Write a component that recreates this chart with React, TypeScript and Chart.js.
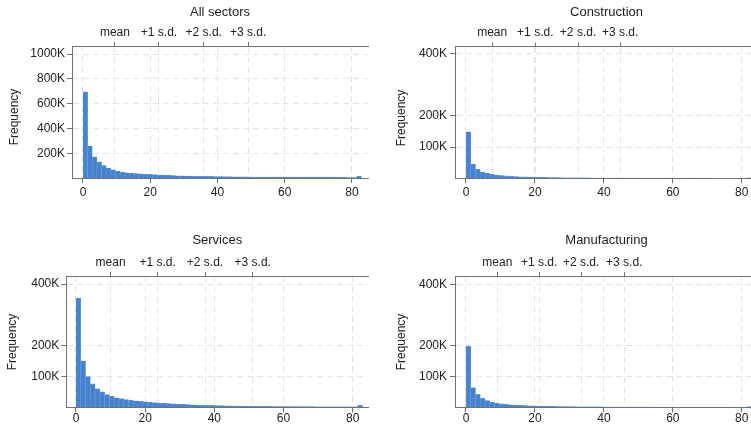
import React, { useEffect, useRef } from "react";
import { Chart, registerables } from "chart.js";

Chart.register(...registerables);
Chart.defaults.font.family = '"Liberation Sans", Arial, Helvetica, sans-serif';
Chart.defaults.font.size = 12;
Chart.defaults.color = "#222";

// ---------- data ----------
const binWidth = 1.38;
const binCount = 60;
const binCenters = Array.from({ length: binCount }, (_, i) => (i + 0.5) * binWidth);

// frequencies in thousands
const allSectorsK = [
  696, 258, 170, 130, 101, 80, 66, 56, 48, 42,
  39, 36, 33, 31, 29, 27, 25, 23, 21.5, 20,
  18.5, 17.5, 16.5, 15.5, 14.7, 14, 13.3, 12.7, 12, 11.5,
  11, 10.5, 10, 9.5, 9, 8.7, 8.4, 8.1, 7.8, 7.5,
  7.2, 7, 6.8, 6.6, 6.4, 6.2, 6, 5.8, 5.6, 5.4,
  5.2, 5, 4.9, 4.8, 4.7, 4.6, 4.5, 4.4, 4.3, 14,
];
const constructionK = [
  149, 45, 29, 20, 16, 13, 10.5, 9, 7.6, 6.6,
  5.8, 5.1, 4.5, 4, 3.6, 3.2, 2.9, 2.6, 2.3, 2.1,
  1.9, 1.7, 1.55, 1.4, 1.3, 1.2, 1.1, 1, 0.95, 0.9,
  0.85, 0.8, 0.75, 0.7, 0.66, 0.62, 0.58, 0.55, 0.52, 0.5,
  0.48, 0.46, 0.44, 0.42, 0.4, 0.38, 0.36, 0.35, 0.34, 0.33,
  0.32, 0.31, 0.3, 0.29, 0.28, 0.27, 0.26, 0.25, 0.24, 1.5,
];
const servicesK = [
  354, 151, 100, 76, 60, 50, 41, 36, 31, 28,
  25, 23, 21, 19.5, 18, 16.5, 15, 14, 13, 12,
  11, 10.2, 9.5, 8.8, 8.2, 7.6, 7, 6.5, 6, 5.6,
  5.2, 4.9, 4.6, 4.3, 4, 3.8, 3.6, 3.4, 3.2, 3,
  2.8, 2.7, 2.6, 2.5, 2.4, 2.3, 2.2, 2.1, 2, 1.95,
  1.9, 1.85, 1.8, 1.75, 1.7, 1.65, 1.6, 1.55, 1.5, 6,
];
const manufacturingK = [
  198, 64, 42, 29, 22, 16.5, 13, 11, 9.5, 8.2,
  7.2, 6.4, 5.7, 5.1, 4.6, 4.1, 3.7, 3.3, 3, 2.7,
  2.4, 2.2, 2, 1.8, 1.65, 1.5, 1.4, 1.3, 1.2, 1.1,
  1, 0.95, 0.9, 0.85, 0.8, 0.75, 0.7, 0.66, 0.62, 0.58,
  0.55, 0.52, 0.5, 0.48, 0.46, 0.44, 0.42, 0.4, 0.38, 0.36,
  0.35, 0.34, 0.33, 0.32, 0.31, 0.3, 0.29, 0.28, 0.27, 2,
];

// top-axis marks: mean, +1 s.d., +2 s.d., +3 s.d.
const sdLabels = ["mean", "+1 s.d.", "+2 s.d.", "+3 s.d."];
const allSectorsMarks = [9.5, 22.6, 35.9, 49.1];
const constructionMarks = [7.6, 20.1, 32.5, 44.7];
const servicesMarks = [10.0, 23.6, 37.3, 51.1];
const manufacturingMarks = [9.1, 21.2, 33.4, 45.9];

const xTickValues = [0, 20, 40, 60, 80];
const allSectorsYTicks = [200, 400, 600, 800, 1000];
const sectorYTicks = [100, 200, 400];

// ---------- layout ----------
type PanelCfg = {
  title: string;
  values: number[];
  marks: number[];
  yTicks: number[];
  yMax: number;
  left: number; top: number; w: number; h: number;
  pl: number; pr: number; pt: number; pb: number;
  xMin: number; xMax: number;
  titleY: number; yTitleX: number; yTitleY: number;
  topPad: number; bottomPad: number; yPad: number;
};

const panels: PanelCfg[] = [
  {
    title: "All sectors", values: allSectorsK, marks: allSectorsMarks, yTicks: allSectorsYTicks, yMax: 1066,
    left: 0, top: 0, w: 375, h: 215, pl: 72, pr: 368, pt: 46, pb: 178,
    xMin: -3.27, xMax: 84.76, titleY: 12, yTitleX: 15, yTitleY: 117,
    topPad: 2.5, bottomPad: 2, yPad: 2,
  },
  {
    title: "Construction", values: constructionK, marks: constructionMarks, yTicks: sectorYTicks, yMax: 421,
    left: 375, top: 0, w: 390, h: 215, pl: 80, pr: 383, pt: 46.7, pb: 178.3,
    xMin: -3.19, xMax: 84.7, titleY: 12, yTitleX: 27, yTitleY: 118,
    topPad: 3, bottomPad: 2, yPad: 3,
  },
  {
    title: "Services", values: servicesK, marks: servicesMarks, yTicks: sectorYTicks, yMax: 426,
    left: 0, top: 215, w: 375, h: 215, pl: 66.3, pr: 368.3, pt: 61, pb: 192.3,
    xMin: -2.8, xMax: 84.5, titleY: 25, yTitleX: 13, yTitleY: 342,
    topPad: 2, bottomPad: -1, yPad: 2,
  },
  {
    title: "Manufacturing", values: manufacturingK, marks: manufacturingMarks, yTicks: sectorYTicks, yMax: 427,
    left: 375, top: 215, w: 390, h: 215, pl: 80, pr: 383, pt: 61, pb: 192.3,
    xMin: -3.19, xMax: 84.7, titleY: 25, yTitleX: 27, yTitleY: 342,
    topPad: 2, bottomPad: -1, yPad: 3,
  },
];

const GRID = "#e4e4e4";
const AXIS = "#707070";
const DASH = [6, 4];
const TITLE_SPACE = 20;

const textPlugin = {
  id: "panelText",
  afterDraw(chart: any, _args: any, opts: any) {
    const { ctx, chartArea } = chart;
    ctx.save();
    ctx.fillStyle = "#222";
    ctx.textAlign = "center";
    ctx.textBaseline = "middle";
    ctx.font = '13px "Liberation Sans", Arial, sans-serif';
    ctx.fillText(opts.title, (chartArea.left + chartArea.right) / 2, opts.titleY);
    ctx.font = '12px "Liberation Sans", Arial, sans-serif';
    ctx.translate(opts.yTitleX, opts.yTitleY);
    ctx.rotate(-Math.PI / 2);
    ctx.fillText("Frequency", 0, 0);
    ctx.restore();
  },
};

function Panel({ cfg }: { cfg: PanelCfg }) {
  const ref = useRef<HTMLCanvasElement | null>(null);
  useEffect(() => {
    if (!ref.current) return;
    const gridOpts = { offset: false, color: GRID, tickBorderDash: [], tickColor: AXIS, lineWidth: 1, tickWidth: 1 };
    const borderOpts = { display: true, color: AXIS, width: 1, dash: DASH };
    const chart = new Chart(ref.current, {
      type: "bar",
      data: {
        datasets: [
          {
            data: binCenters.map((x, i) => ({ x, y: cfg.values[i] })),
            backgroundColor: "#4682cd",
            borderColor: "#6a9bd8",
            borderWidth: 0.6,
            barPercentage: 1,
            categoryPercentage: 1,
            xAxisID: "x",
            yAxisID: "y",
          } as any,
        ],
      },
      options: {
        animation: false,
        responsive: false,
        events: [],
        layout: { padding: { top: TITLE_SPACE, left: 0, right: cfg.w - cfg.pr, bottom: 0 } },
        plugins: {
          legend: { display: false },
          tooltip: { enabled: false },
          title: { display: false },
          panelText: { title: cfg.title, titleY: cfg.titleY, yTitleX: cfg.yTitleX, yTitleY: cfg.yTitleY - cfg.top },
        } as any,
        scales: {
          x: {
            type: "linear",
            position: "bottom",
            min: cfg.xMin,
            max: cfg.xMax,
            offset: false,
            afterBuildTicks: (s: any) => { s.ticks = xTickValues.map((v) => ({ value: v })); },
            afterFit: (s: any) => { s.height = cfg.h - cfg.pb; },
            ticks: { autoSkip: false, maxRotation: 0, padding: cfg.bottomPad, callback: (v: any) => String(v), font: { size: 12 } },
            grid: { ...gridOpts, tickLength: 5 } as any,
            border: borderOpts as any,
          },
          xTop: {
            type: "linear",
            position: "top",
            min: cfg.xMin,
            max: cfg.xMax,
            offset: false,
            afterBuildTicks: (s: any) => { s.ticks = cfg.marks.map((v) => ({ value: v })); },
            afterFit: (s: any) => { s.height = cfg.pt - TITLE_SPACE; },
            ticks: { autoSkip: false, maxRotation: 0, minRotation: 0, padding: cfg.topPad, callback: (_v: any, i: number) => sdLabels[i], font: { size: 12 } },
            grid: { ...gridOpts, tickLength: 4 } as any,
            border: borderOpts as any,
          },
          y: {
            type: "linear",
            position: "left",
            min: 0,
            max: cfg.yMax,
            afterBuildTicks: (s: any) => { s.ticks = cfg.yTicks.map((v) => ({ value: v })); },
            afterFit: (s: any) => { s.width = cfg.pl; },
            ticks: { padding: cfg.yPad, callback: (v: any) => `${v}K`, font: { size: 12 } },
            grid: { ...gridOpts, tickLength: 5 } as any,
            border: borderOpts as any,
          },
        },
      },
      plugins: [textPlugin],
    } as any);
    return () => chart.destroy();
  }, [cfg]);
  return (
    <div style={{ position: "absolute", left: cfg.left, top: cfg.top, width: cfg.w, height: cfg.h }}>
      <canvas ref={ref} width={cfg.w} height={cfg.h} style={{ width: cfg.w, height: cfg.h, display: "block" }} />
    </div>
  );
}

export default function App() {
  return (
    <div style={{ position: "fixed", left: 0, top: 0, width: 751, height: 430, overflow: "hidden", background: "#fff" }}>
      {panels.map((p) => (
        <Panel key={p.title} cfg={p} />
      ))}
    </div>
  );
}
